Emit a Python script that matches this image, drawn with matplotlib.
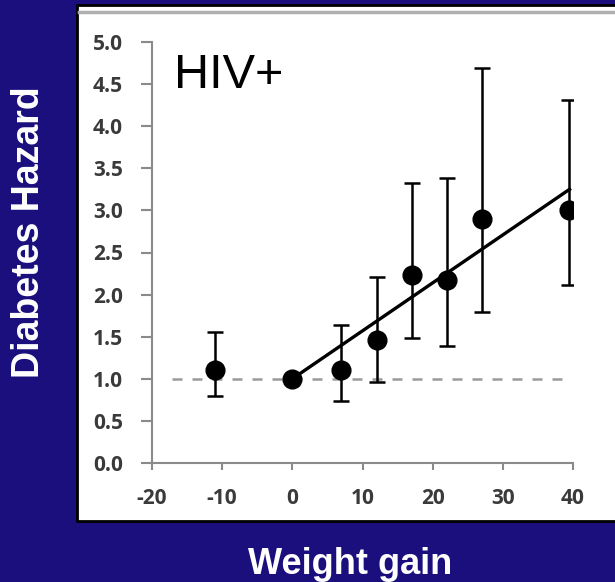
import numpy as np
import matplotlib.pyplot as plt
from matplotlib.patches import Rectangle
from matplotlib.lines import Line2D

plt.rcParams['axes.unicode_minus'] = False

# weight gain groups and diabetes hazard ratios (HIV+)
gain = [-11, 0, 7, 12, 17, 22, 27, 39.5]
hazard = [1.10, 1.00, 1.10, 1.46, 2.23, 2.17, 2.90, 3.01]
upper = [1.55, np.nan, 1.64, 2.21, 3.33, 3.38, 4.69, 4.31]
lower = [0.79, np.nan, 0.74, 0.96, 1.48, 1.39, 1.79, 2.11]

# fitted trend from the reference group
fit_x = [0, 39.5]
fit_y = [1.0, 3.25]
ref_x = [-17.2, 39.5]
ref_y = [1.0, 1.0]

xticks = [-20, -10, 0, 10, 20, 30, 40]
yticks = [0.0, 0.5, 1.0, 1.5, 2.0, 2.5, 3.0, 3.5, 4.0, 4.5, 5.0]

bg = '#1b0f7e'
W, H = 615, 582
fig = plt.figure(figsize=(W / 100, H / 100), dpi=100, facecolor=bg)

# white slide panel with black frame
fig.patches.append(Rectangle((77 / W, 1 - 521 / H), 1, 516 / H, transform=fig.transFigure,
                             facecolor='white', edgecolor='black', linewidth=2, zorder=-2))
fig.lines.append(Line2D([79 / W, 1], [1 - 12 / H, 1 - 12 / H], transform=fig.transFigure,
                        color='#b0b0b0', linewidth=2.5, zorder=-1))

ax = fig.add_axes([152 / W, 119 / H, 421 / W, 421 / H])
ax.set_facecolor('none')
ax.set_zorder(2)

ax.plot(ref_x, ref_y, color='#9a9a9a', linewidth=1.8, dashes=(4, 4))
ax.plot(fit_x, fit_y, color='black', linewidth=2.4, zorder=3)

err = np.array([np.array(hazard) - np.array(lower), np.array(upper) - np.array(hazard)])
err = np.nan_to_num(err)
ax.errorbar(gain, hazard, yerr=err, fmt='o', color='black', markersize=13.5,
            elinewidth=1.8, capsize=5.5, capthick=1.8, zorder=4)

ax.set_xlim(-20, 40)
ax.set_ylim(0, 5)
ax.set_xticks(xticks)
ax.set_yticks(yticks)
ax.set_yticklabels([f'{v:.1f}' for v in yticks])
for s in ['top', 'right']:
    ax.spines[s].set_visible(False)
for s in ['left', 'bottom']:
    ax.spines[s].set_color('#8a8a8a')
    ax.spines[s].set_linewidth(1.5)
ax.tick_params(axis='y', direction='out', length=8, width=1.5, color='#8a8a8a', pad=13)
ax.tick_params(axis='x', direction='out', length=5, width=1.5, color='#8a8a8a', pad=13)
for lab in ax.get_xticklabels() + ax.get_yticklabels():
    lab.set_fontfamily('Open Sans')
    lab.set_fontweight('bold')
    lab.set_fontsize(15)
    lab.set_color('#3a3a3a')

ax.text(-16.9, 4.45, 'HIV+', fontsize=35, family='Liberation Sans', color='black',
        va='baseline', ha='left')

fig.text(29 / W, 1 - 232 / H, 'Diabetes Hazard', rotation=90, color='white',
         fontsize=27, fontweight='bold', family='Liberation Sans', ha='center', va='center')
fig.text(350 / W, 1 - 574 / H, 'Weight gain', color='white',
         fontsize=26, fontweight='bold', family='Liberation Sans', ha='center', va='baseline')

fig.savefig('out.png', dpi=100, facecolor=bg)
